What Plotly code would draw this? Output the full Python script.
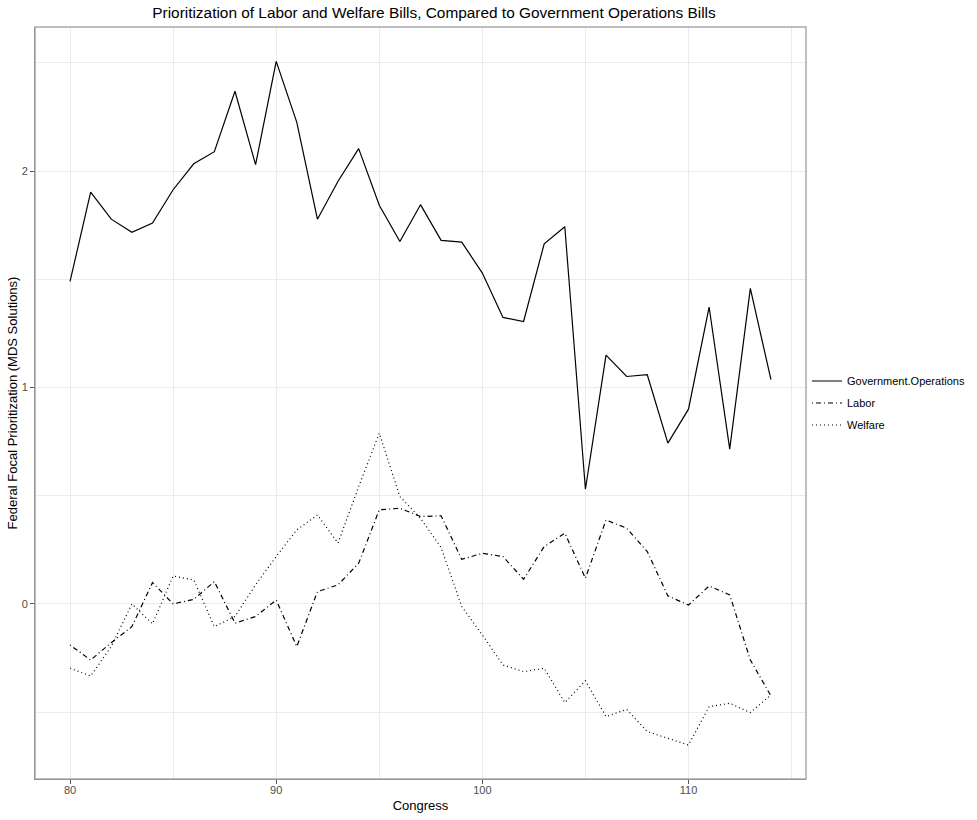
import plotly.graph_objs as go

# congress numbers (80th - 114th)
congress = list(range(80, 115))

gov_ops = [1.490, 1.903, 1.778, 1.717, 1.760, 1.914, 2.034, 2.090, 2.369, 2.030,
           2.507, 2.225, 1.778, 1.953, 2.104, 1.842, 1.675, 1.845, 1.680, 1.672,
           1.529, 1.324, 1.305, 1.664, 1.743, 0.530, 1.150, 1.051, 1.059, 0.743,
           0.900, 1.372, 0.715, 1.458, 1.036]

labor = [-0.190, -0.259, -0.179, -0.105, 0.099, 0.000, 0.021, 0.103, -0.089, -0.058,
         0.018, -0.197, 0.057, 0.088, 0.188, 0.435, 0.442, 0.404, 0.407, 0.206,
         0.234, 0.219, 0.114, 0.265, 0.327, 0.119, 0.388, 0.350, 0.242, 0.037,
         -0.005, 0.083, 0.042, -0.259, -0.425]

welfare = [-0.297, -0.333, -0.197, 0.000, -0.092, 0.129, 0.111, -0.105, -0.058, 0.088,
           0.219, 0.342, 0.411, 0.281, 0.542, 0.789, 0.496, 0.396, 0.260, -0.012,
           -0.143, -0.282, -0.313, -0.297, -0.456, -0.355, -0.521, -0.487, -0.590, -0.621,
           -0.652, -0.475, -0.459, -0.502, -0.421]

font = "Liberation Sans, Arial, sans-serif"

data = [
    go.Scatter(x=congress, y=gov_ops, mode='lines', name='Government.Operations', legendgroup='g',
               line=dict(color='black', width=1.2, dash='solid')),
    go.Scatter(x=congress, y=labor, mode='lines', name='Labor', legendgroup='l',
               line=dict(color='black', width=1.2, dash='1px,3px,5px,3px')),
    go.Scatter(x=congress, y=welfare, mode='lines', name='Welfare', legendgroup='w',
               line=dict(color='black', width=1.2, dash='1px,3px')),
]

axis_common = dict(showgrid=True, gridcolor='#ebebeb', gridwidth=1, automargin=False,
                   zeroline=False, showline=True, linecolor='#555555', linewidth=1,
                   ticks='outside', ticklen=4, tickcolor='#555555',
                   tickfont=dict(size=11, color='#4d4d4d', family=font))

layout = go.Layout(
    title=dict(text='Prioritization of Labor and Welfare Bills, Compared to Government Operations Bills',
               xref='paper', x=0.5175, xanchor='center', yref='container', y=1 - 13 / 820, yanchor='middle',
               automargin=False, font=dict(size=15.4, color='black', family=font)),
    xaxis=dict(axis_common, range=[78.3, 115.7], dtick=10, tick0=80, ticklabelstandoff=-3,
               minor=dict(dtick=5, tick0=80, showgrid=True, gridcolor='#ebebeb', ticks=''),
               title=dict(text='Congress', font=dict(size=13, color='black', family=font), standoff=5)),
    yaxis=dict(axis_common, range=[-0.809, 2.666], dtick=1, tick0=0,
               minor=dict(dtick=0.5, tick0=0, showgrid=True, gridcolor='#ebebeb', ticks=''),
               title=dict(text='Federal Focal Prioritization (MDS Solutions)',
                          font=dict(size=13, color='black', family=font), standoff=1)),
    legend=dict(xref='container', yref='container', x=807 / 977, xanchor='left',
                y=1 - 403 / 820, yanchor='middle', itemwidth=30,
                font=dict(size=11, color='black', family=font),
                bgcolor='rgba(0,0,0,0)', tracegroupgap=3),
    shapes=[dict(type='rect', xref='paper', yref='paper', x0=0, x1=1, y0=0, y1=1,
                 line=dict(color='#aaaaaa', width=1.5), layer='above')],
    plot_bgcolor='white', paper_bgcolor='white',
    width=977, height=820,
    margin=dict(l=35, r=171, t=27, b=41),
    showlegend=True,
)

fig = go.Figure(data=data, layout=layout)
fig.write_html("out.html", config={'displayModeBar': False},
               post_script="document.body.style.margin='0';")
